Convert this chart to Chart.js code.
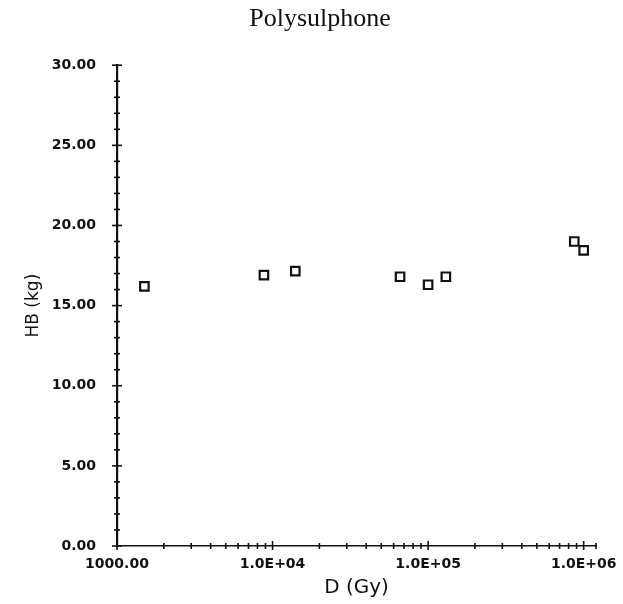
<!DOCTYPE html>
<html>
<head>
<meta charset="utf-8">
<title>Polysulphone</title>
<script src="https://cdn.jsdelivr.net/npm/chart.js@4"></script>
<style>
    html, body { margin: 0; padding: 0; background: #fff; }
    #wrap { width: 623px; height: 604px; }
</style>
</head>
<body>
<div id="wrap"><canvas id="hbChart"></canvas></div>
<script>
"use strict";

/* global Chart */

// ✅ Data
const doseGy = [1500, 8800, 14000, 66000, 100000, 130000, 870000, 1000000];
const hbKg = [16.2, 16.9, 17.15, 16.8, 16.3, 16.8, 19.0, 18.45];

// ✅ Axis ticks
const xMajorTicks = [1000, 10000, 100000, 1000000];
const xMajorLabels = ["1000.00", "1.0E+04", "1.0E+05", "1.0E+06"];
const xMinorSteps = [2, 3, 4, 5, 6, 7, 8, 9];
const X_MIN = 1000;
const X_MAX = 1200000;
const Y_MIN = 0;
const Y_MAX = 30;
const Y_LABEL_EVERY = 5;

const INK = "#111";
const SANS = "'DejaVu Sans', sans-serif";

// The title in the scan sits a bit left of the plot centre, so the layout is
// padded on the left and the y axis box made narrower to keep the plot put.
const LEFT_PAD = 44;
const PLOT_LEFT = 117;

// every decade gets minor ticks 2..9, plus one at the end of the axis
const xTickValues = [];
xMajorTicks.forEach(m => {
    xTickValues.push(m);
    xMinorSteps.forEach(s => {
        if (m * s < X_MAX) xTickValues.push(m * s);
    });
});
xTickValues.push(X_MAX);

// ✅ Tick marks that cross the axis line, like the plotter drew them
const crossTicks = {
    id: "crossTicks",
    afterDraw(chart) {
        const c = chart.ctx;
        const xs = chart.scales.x;
        const ys = chart.scales.y;
        c.save();
        c.strokeStyle = INK;
        c.lineWidth = 1.6;
        xs.ticks.forEach(t => {
            const px = xs.getPixelForValue(t.value);
            const big = xMajorTicks.includes(t.value);
            c.beginPath();
            c.moveTo(px, xs.top - (big ? 5 : 3));
            c.lineTo(px, xs.top + (big ? 4 : 3));
            c.stroke();
        });
        ys.ticks.forEach(t => {
            const py = ys.getPixelForValue(t.value);
            const big = t.value % Y_LABEL_EVERY === 0;
            c.beginPath();
            c.moveTo(ys.right - (big ? 5 : 3), py);
            c.lineTo(ys.right + (big ? 5 : 3), py);
            c.stroke();
        });
        c.restore();
    }
};

const ctx = document.getElementById("hbChart").getContext("2d");

new Chart(ctx, {
    type: "scatter",
    data: {
        datasets: [{
            label: "HB",
            data: doseGy.map((d, i) => ({ x: d, y: hbKg[i] })),
            pointStyle: "rect",
            pointRadius: 6,
            pointHoverRadius: 6,
            borderWidth: 2.2,
            borderColor: INK,
            backgroundColor: "#fff",
            showLine: false
        }]
    },
    options: {
        responsive: true,
        maintainAspectRatio: false,
        animation: false,
        layout: { padding: { left: LEFT_PAD, right: 27, top: 0, bottom: 0 } },
        plugins: {
            legend: { display: false },
            tooltip: { enabled: false },
            title: {
                display: true,
                text: "Polysulphone",
                color: INK,
                font: { family: "'Liberation Serif', serif", size: 26, weight: "normal" },
                padding: { top: 4, bottom: 30 }
            }
        },
        scales: {
            x: {
                type: "logarithmic",
                position: "bottom",
                min: X_MIN,
                max: X_MAX,
                afterBuildTicks: scale => {
                    scale.ticks = xTickValues.map(v => ({ value: v }));
                },
                afterFit: scale => { scale.height = 58; },
                grid: { display: false },
                border: { color: INK, width: 1.6 },
                ticks: {
                    autoSkip: false,
                    maxRotation: 0,
                    padding: 2,
                    color: INK,
                    font: { family: SANS, size: 14, weight: "bold" },
                    callback: value => {
                        const idx = xMajorTicks.indexOf(value);
                        return idx >= 0 ? xMajorLabels[idx] : "";
                    }
                },
                title: {
                    display: true,
                    text: "D (Gy)",
                    color: INK,
                    font: { family: SANS, size: 20 },
                    padding: { top: 0, bottom: 4 }
                }
            },
            y: {
                min: Y_MIN,
                max: Y_MAX,
                afterFit: scale => { scale.width = PLOT_LEFT - LEFT_PAD; },
                grid: { display: false },
                border: { color: INK, width: 2.2 },
                ticks: {
                    stepSize: 1,
                    autoSkip: false,
                    padding: 13,
                    color: INK,
                    font: { family: SANS, size: 14, weight: "bold" },
                    callback: value => (value % Y_LABEL_EVERY === 0 ? value.toFixed(2) : "")
                },
                title: {
                    display: true,
                    text: "HB (kg)",
                    color: INK,
                    font: { family: SANS, size: 17 },
                    padding: { top: 23 - LEFT_PAD, bottom: 0 }
                }
            }
        }
    },
    plugins: [crossTicks]
});
</script>
</body>
</html>
